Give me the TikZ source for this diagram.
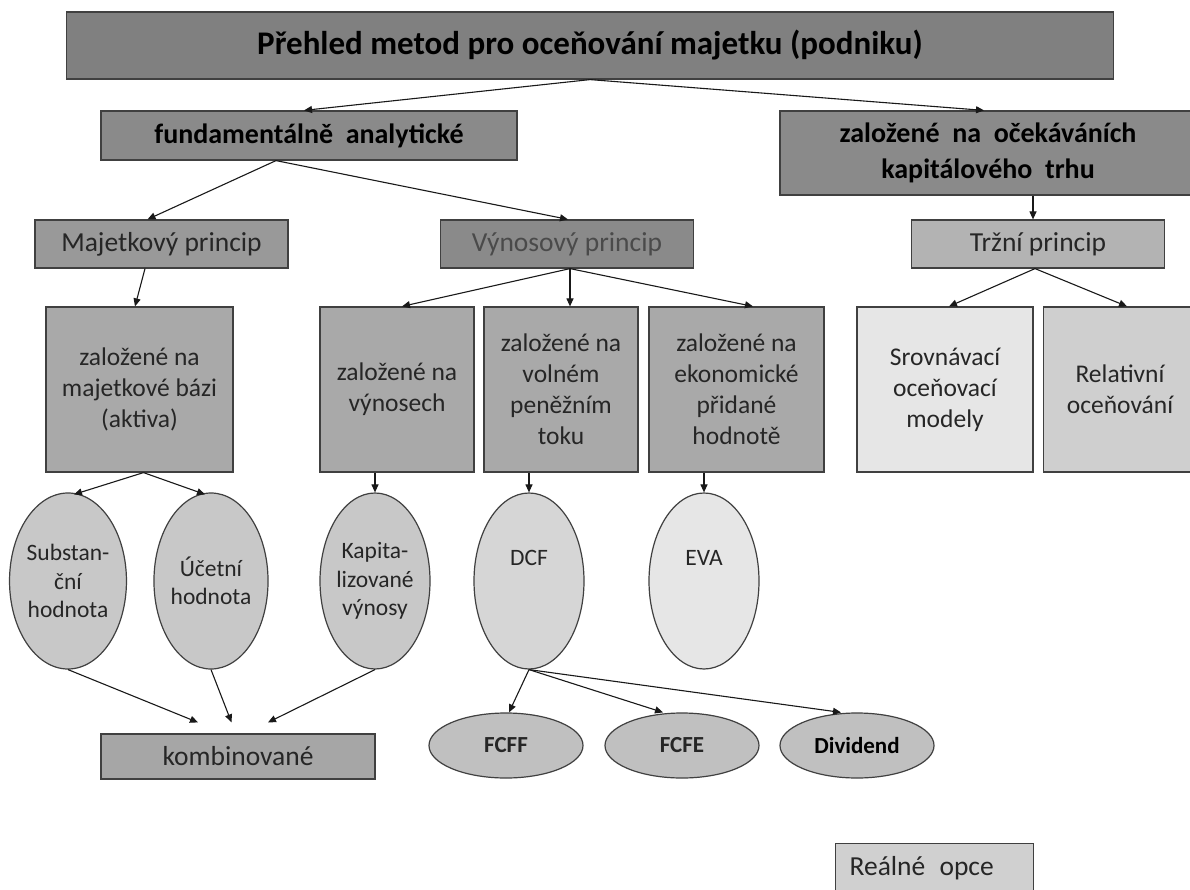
\documentclass[tikz,border=0pt]{standalone}
\usepackage{fontspec}
\setmainfont{Carlito}
\usetikzlibrary{arrows.meta,shapes.geometric,calc}
\definecolor{gTitle}{HTML}{808080}
\definecolor{gDark}{HTML}{8A8A8A}
\definecolor{gMid}{HTML}{999999}
\definecolor{gBox}{HTML}{A9A9A9}
\definecolor{gTrz}{HTML}{B3B3B3}
\definecolor{gSrov}{HTML}{E6E6E6}
\definecolor{gRel}{HTML}{CFCFCF}
\definecolor{gEll}{HTML}{C8C8C8}
\definecolor{gDcf}{HTML}{D6D6D6}
\definecolor{gEva}{HTML}{E6E6E6}
\definecolor{gFc}{HTML}{C0C0C0}
\definecolor{gKomb}{HTML}{A6A6A6}
\definecolor{gOpce}{HTML}{D0D0D0}
\definecolor{gLine}{HTML}{404040}
\definecolor{gText}{HTML}{262626}
\definecolor{gSoft}{HTML}{4A4A4A}
\tikzset{
  box/.style={draw=gLine, line width=1.2pt, rectangle, inner sep=0pt, align=center, text=gText},
  oval/.style={draw=gLine, line width=1.2pt, ellipse, inner sep=0pt, align=center, text=gText},
  conn/.style={draw=black!90, line width=1.1pt, -{Triangle[length=8pt,width=7pt]}},
  bigbold/.style={font=\fontsize{33}{38}\selectfont\bfseries},
  midbold/.style={font=\fontsize{28}{36}\selectfont\bfseries},
  princ/.style={font=\fontsize{27.5}{31}\selectfont},
  rowtxt/.style={font=\fontsize{25.5}{31}\selectfont},
  elltxt/.style={font=\fontsize{23.5}{28.5}\selectfont},
  fctxt/.style={font=\fontsize{23}{26}\selectfont\bfseries}
}
\begin{document}
\begin{tikzpicture}[x=1pt,y=-1pt]
\useasboundingbox (0,0) rectangle (1190,890);
\clip (0,0) rectangle (1190,890);
\fill[white] (0,0) rectangle (1190,890);

% level 0
\node[box, fill=gTitle, minimum width=1047pt, minimum height=67pt, bigbold, text=black] (title) at (590,45.5) {Přehled metod pro oceňování majetku (podniku)};
% level 1
\node[box, fill=gDark, minimum width=416pt, minimum height=49pt, midbold, text=black] (fund) at (309,135.5) {fundamentálně\ \ analytické};
\node[box, fill=gDark, minimum width=416pt, minimum height=84pt, midbold, text=black] (ocek) at (988,153) {založené\ \ na\ \ očekáváních\\kapitálového\ \ trhu};
% level 2
\node[box, fill=gMid, minimum width=253pt, minimum height=48pt, princ] (majp) at (161.5,244) {Majetkový princip};
\node[box, fill=gDark, minimum width=253pt, minimum height=48pt, princ, text=gSoft] (vynp) at (567,244) {Výnosový princip};
\node[box, fill=gTrz, minimum width=253pt, minimum height=48pt, princ] (trzp) at (1038,244) {Tržní princip};
% level 3
\node[box, fill=gBox, minimum width=187pt, minimum height=165pt, rowtxt] (bazi) at (139.5,389.5) {založené na\\majetkové bázi\\(aktiva)};
\node[box, fill=gBox, minimum width=154pt, minimum height=165pt, rowtxt] (vyn) at (397,389.5) {založené na\\výnosech};
\node[box, fill=gBox, minimum width=154pt, minimum height=165pt, rowtxt] (vol) at (561,389.5) {založené na\\volném\\peněžním\\toku};
\node[box, fill=gBox, minimum width=175pt, minimum height=165pt, rowtxt] (eko) at (736.5,389.5) {založené na\\ekonomické\\přidané\\hodnotě};
\node[box, fill=gSrov, minimum width=176pt, minimum height=165pt, rowtxt] (srov) at (945,389.5) {Srovnávací\\oceňovací\\modely};
\node[box, fill=gRel, minimum width=153pt, minimum height=165pt, rowtxt] (rel) at (1120,389.5) {Relativní\\oceňování};
% level 4 ellipses
\node[oval, fill=gEll, minimum width=110pt, minimum height=176pt, elltxt] (sub) at (68,581) {Substan-\\ční\\hodnota};
\node[oval, fill=gEll, minimum width=110pt, minimum height=176pt, elltxt] (uc) at (211,581) {Účetní\\hodnota};
\node[oval, fill=gEll, minimum width=110pt, minimum height=176pt, elltxt] (kap) at (375,581) {Kapita-\\lizované\\výnosy};
\node[oval, fill=gDcf, minimum width=110pt, minimum height=176pt, elltxt,
      label={[elltxt, text=gText, yshift=23pt]center:DCF}] (dcf) at (529,581) {};
\node[oval, fill=gEva, minimum width=110pt, minimum height=176pt, elltxt,
      label={[elltxt, text=gText, yshift=23pt]center:EVA}] (eva) at (704,581) {};
% level 5
\node[box, fill=gKomb, minimum width=274pt, minimum height=45pt, princ] (komb) at (238,756.5) {kombinované};
\node[oval, fill=gFc, minimum width=154pt, minimum height=65pt, fctxt, text=gText] (fcff) at (506,745.5) {FCFF};
\node[oval, fill=gFc, minimum width=154pt, minimum height=65pt, fctxt, text=gText] (fcfe) at (682,745.5) {FCFE};
\node[oval, fill=gFc, minimum width=154pt, minimum height=65pt, fctxt, text=black] (div) at (857,745.5) {Dividend};
% Reálné opce
\node[box, fill=gOpce, minimum width=198pt, minimum height=50pt, princ, anchor=north west, text width=170pt, align=left, inner xsep=14pt, inner ysep=0pt] (opce) at (835,843) {Reálné\hspace{5pt} opce};

% connectors
\draw[conn] (title.south) -- ([xshift=-5pt]fund.north);
\draw[conn] (title.south) -- ([xshift=-4pt]ocek.north);
\draw[conn] ([xshift=-33pt]fund.south) -- ([xshift=-14pt]majp.north);
\draw[conn] ([xshift=-33pt]fund.south) -- ([xshift=1pt]vynp.north);
\draw[conn] ([xshift=-5pt]trzp.north |- ocek.south) -- ([xshift=-5pt]trzp.north);
\draw[conn] ([xshift=-16.5pt]majp.south) -- ([xshift=-4.5pt]bazi.north);
\draw[conn] ([xshift=3pt]vynp.south) -- ([xshift=5pt]vyn.north);
\draw[conn] ([xshift=3pt]vynp.south) -- ([xshift=9pt]vol.north);
\draw[conn] ([xshift=3pt]vynp.south) -- ([xshift=16.5pt]eko.north);
\draw[conn] ([xshift=-3pt]trzp.south) -- ([xshift=4pt]srov.north);
\draw[conn] ([xshift=-3pt]trzp.south) -- ([xshift=7pt]rel.north);
\draw[conn] ([xshift=4pt]bazi.south) -- ([xshift=6pt,yshift=-2pt]sub.north);
\draw[conn] ([xshift=4pt]bazi.south) -- ([xshift=-6pt,yshift=-2pt]uc.north);
\draw[conn] (kap.north |- vyn.south) -- (kap.north);
\draw[conn] (dcf.north |- vol.south) -- (dcf.north);
\draw[conn] (eva.north |- eko.south) -- (eva.north);
\draw[conn] (sub.south) -- ([xshift=-40pt,yshift=11pt]komb.north);
\draw[conn] (uc.south) -- ([xshift=-6.5pt,yshift=11pt]komb.north);
\draw[conn] (kap.south) -- ([xshift=30pt,yshift=11pt]komb.north);
\draw[conn] (dcf.south) -- ([xshift=3pt]fcff.north);
\draw[conn] (dcf.south) -- ([xshift=-19pt]fcfe.north);
\draw[conn] (dcf.south) -- ([xshift=-16pt]div.north);
\end{tikzpicture}
\end{document}
